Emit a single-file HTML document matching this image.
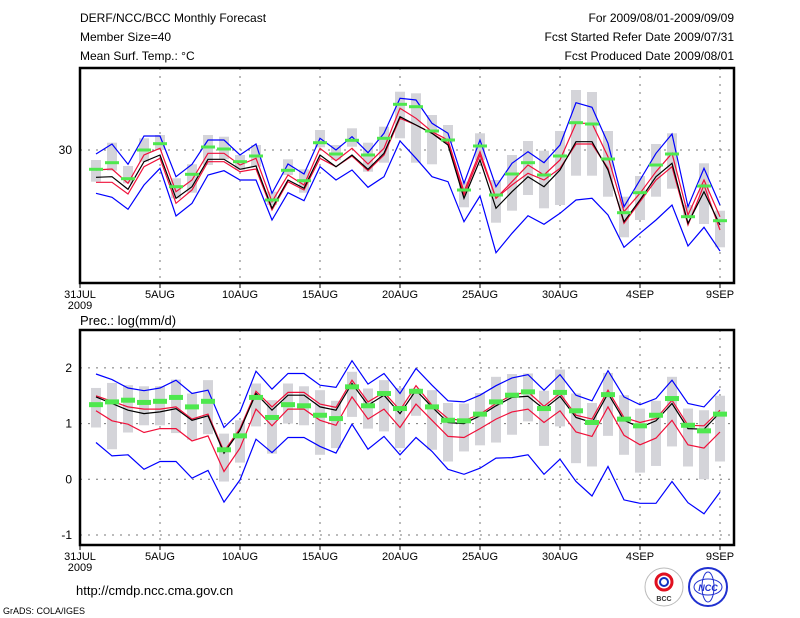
<!DOCTYPE html>
<html><head><meta charset="utf-8"><style>
html,body{margin:0;padding:0;background:#fff;}
svg{display:block;font-family:"Liberation Sans",sans-serif;}
</style></head><body>
<svg id="c" width="800" height="618" viewBox="0 0 800 618">
<g font-size="12" fill="#000">
<text x="80" y="22">DERF/NCC/BCC Monthly Forecast</text>
<text x="80" y="41">Member Size=40</text>
<text x="80" y="60">Mean Surf. Temp.: °C</text>
<text x="734" y="22" text-anchor="end">For 2009/08/01-2009/09/09</text>
<text x="734" y="41" text-anchor="end">Fcst Started Refer Date 2009/07/31</text>
<text x="734" y="60" text-anchor="end">Fcst Produced Date 2009/08/01</text>
<text x="80" y="325" font-size="13">Prec.: log(mm/d)</text>
<text x="76" y="595" font-size="13">http://cmdp.ncc.cma.gov.cn</text>
<text x="3" y="614" font-size="9">GrADS: COLA/IGES</text>
</g>
<g>
<circle cx="664" cy="587" r="19" fill="#fff" stroke="#bbb"/>
<circle cx="664" cy="582" r="8" fill="none" stroke="#e01020" stroke-width="3"/>
<circle cx="664" cy="582" r="4" fill="none" stroke="#1030c0" stroke-width="2"/>
<text x="664" y="601" text-anchor="middle" font-size="7" font-weight="bold" fill="#333">BCC</text>
</g>
<g>
<circle cx="708" cy="587" r="19" fill="#fff" stroke="#2030d0" stroke-width="2"/>
<ellipse cx="708" cy="587" rx="14" ry="8" fill="none" stroke="#2030d0"/>
<ellipse cx="708" cy="587" rx="6" ry="15" fill="none" stroke="#2030d0"/>
<text x="708" y="591" text-anchor="middle" font-size="9" font-style="italic" font-weight="bold" fill="#2030d0">NCC</text>
</g>
<g id="top"></g>
<g id="bot"></g>
</svg>
<script>
const dayLabels=["31JUL","5AUG","10AUG","15AUG","20AUG","25AUG","30AUG","4SEP","9SEP"];
const tBlack=[27.27,27.33,26.07,28.83,29.5,25.17,26.33,29.07,29.07,28.07,28.4,24.17,27,26.17,29.5,28.33,29.5,28.07,29.67,33.33,32.5,31.67,30.5,25.17,29,24.17,25.83,27.33,26.33,28,30.83,30.83,28,22.83,25,27.33,28.67,22.67,25.83,22.5];
const tRedHi=[28,28.1,26.67,29.5,30.17,25.83,27,29.67,29.67,28.5,29.17,24.83,27.5,26.5,30.17,28.93,30.17,28.6,30.17,34.17,33.17,31.83,31,25.83,29.83,25.17,26.83,28.5,27.5,29,32.67,32.67,29.33,23.83,25.67,27.83,29.67,23.5,27,23.33];
const tRedLo=[26.77,26.77,25.6,28.33,29.17,24.67,26,28.83,28.83,27.83,28.1,24,26.83,26,29.17,28.33,29.4,27.93,29.5,33.17,32.5,31.67,30.67,25.5,29.5,25.17,26.5,27.67,27,28.17,30.6,30.6,28.17,22.67,24.83,27,28.33,22.5,26.5,22];
const tBlueHi=[29.6,30.6,28.57,31.4,31.4,27.33,28.57,31,31,29.5,30.6,25.67,28.6,27.6,31.17,30,31.33,29.73,31.67,35.17,35,32.67,31.67,26.67,31,26.33,28.67,29.83,28.73,30.5,34.73,34.27,30.67,24.33,27,29.67,31.6,24.33,28.17,24.5];
const tBlueLo=[25.67,25.27,24.07,26.5,28.17,23.4,24.67,27.5,27.93,27,27,23,25.73,24.93,28.33,27,28,26.27,27.33,30.9,29.17,27.33,26.83,22.83,25.4,19.73,21.67,23.43,22.57,23.67,25,25.17,23.5,20.27,21.67,23,24.5,20.4,22.27,19.9];
const tGreen=[28.07,28.73,27.13,30,30.63,26.33,27.57,30.3,30.1,28.83,29.4,25,27.97,26.93,30.73,29.6,30.97,29.5,31.17,34.57,34.33,31.9,31,26,30.4,25.5,27.6,28.73,27.5,29.4,32.73,32.6,29.1,23.73,25.73,28.5,29.6,23.33,26.4,22.93];
const tBoxHi=[29,30.73,28.4,31.17,31.5,27.17,28.57,31.5,31.33,29.5,30.5,25.83,29.07,28.07,32,30.5,32.17,30.73,32.33,35.83,35.67,33.5,32.5,26.83,31.67,27,29.5,30.9,29.93,31.9,36,35.8,31.9,25.33,27.4,30.6,31.67,24.5,28.67,23.93];
const tBoxLo=[26.83,27.93,26.67,28.83,30,25.17,25.73,28.5,29.07,28,28.33,24.5,27.5,25.73,30.27,29,30.33,27.83,28.73,31.17,28.73,28.57,30.73,24.27,29,22.73,23.93,25.5,24.17,24.5,27.43,27.43,25.33,21.27,23,25.33,26.13,23.33,22.6,20.27];
const tTicks=[30];
const pBlack=[1.48,1.36,1.24,1.18,1.21,1.27,1.06,1.14,0.47,0.88,1.54,1.24,1.51,1.51,1.30,1.24,1.72,1.33,1.51,1.18,1.60,1.30,1.02,1.00,1.14,1.32,1.47,1.49,1.26,1.49,1.11,1.02,1.54,1.06,0.93,1.05,1.36,0.91,0.90,1.20];
const pRedHi=[1.50,1.40,1.30,1.26,1.26,1.30,1.08,1.17,0.50,0.91,1.58,1.30,1.56,1.56,1.35,1.29,1.78,1.39,1.56,1.24,1.68,1.33,1.09,1.05,1.17,1.36,1.51,1.57,1.31,1.54,1.15,1.08,1.60,1.11,1.02,1.09,1.42,0.97,0.96,1.24];
const pRedLo=[1.23,1.05,0.99,0.84,0.91,0.91,0.69,0.78,0.14,0.56,1.26,0.96,1.26,1.26,1.06,0.97,1.48,1.08,1.26,0.93,1.35,1.06,0.77,0.75,0.91,1.08,1.21,1.26,1.02,1.23,0.85,0.77,1.30,0.79,0.62,0.74,1.06,0.62,0.56,0.85];
const pBlueHi=[1.89,1.79,1.64,1.59,1.64,1.78,1.54,1.60,0.93,1.21,1.94,1.62,1.90,1.90,1.69,1.65,2.13,1.71,1.90,1.54,1.99,1.69,1.41,1.39,1.51,1.68,1.82,1.88,1.60,1.88,1.51,1.41,1.95,1.48,1.34,1.45,1.78,1.36,1.30,1.61];
const pBlueLo=[0.66,0.42,0.44,0.18,0.32,0.32,0.02,0.16,-0.41,-0.01,0.72,0.48,0.75,0.75,0.59,0.47,0.99,0.54,0.77,0.44,0.75,0.50,0.18,0.09,0.20,0.38,0.39,0.44,0.09,0.36,-0.04,-0.30,0.23,-0.37,-0.43,-0.43,-0.04,-0.42,-0.62,-0.23];
const pGreen=[1.34,1.39,1.42,1.38,1.40,1.47,1.30,1.40,0.53,0.78,1.47,1.11,1.34,1.32,1.15,1.09,1.66,1.32,1.54,1.27,1.58,1.30,1.06,1.05,1.17,1.39,1.51,1.57,1.27,1.56,1.23,1.02,1.52,1.08,0.96,1.15,1.45,0.97,0.87,1.17];
const pBoxHi=[1.64,1.73,1.69,1.67,1.67,1.79,1.54,1.78,0.82,1.06,1.72,1.42,1.72,1.67,1.60,1.41,1.93,1.63,1.78,1.64,1.63,1.60,1.37,1.36,1.55,1.84,1.89,1.90,1.59,1.97,1.54,1.37,1.91,1.51,1.27,1.41,1.84,1.27,1.24,1.50];
const pBoxLo=[0.93,0.54,0.84,0.97,0.97,0.83,0.71,0.81,-0.04,0.30,0.95,0.46,1.00,0.97,0.44,0.56,1.12,0.91,0.86,0.56,1.14,0.53,0.32,0.50,0.61,0.66,0.80,1.04,0.60,0.95,0.29,0.23,0.78,0.44,0.12,0.24,0.59,0.23,0.00,0.32];
const pTicks=[2,1,0,-1];

const NS="http://www.w3.org/2000/svg";
function mk(parent,tag,attrs){const e=document.createElementNS(NS,tag);for(const k in attrs)e.setAttribute(k,attrs[k]);parent.appendChild(e);return e;}
const xDay=d=>80+16*d;
function panel(g,top,bottom,yScale,ticks,box,blueHi,blueLo,redHi,redLo,black,green,gh){
  // grid
  for(let i=0;i<dayLabels.length;i++){
    const x=xDay(i*5);
    if(i>0&&i<dayLabels.length){const l=mk(g,'line',{x1:x,x2:x,y1:top,y2:bottom,stroke:'#777','stroke-dasharray':'2,6'});
    
    }
  }
  ticks.forEach(t=>{
    const y=yScale(t);
    const l=mk(g,'line',{x1:80,x2:734,y1:y,y2:y,stroke:'#777','stroke-dasharray':'2,6'});
    
    
    const tx=mk(g,'text',{x:72,y:y+4,'text-anchor':'end','font-size':'12'});
    tx.textContent=String(t);
    
    
  });
  // boxes
  box[0].forEach((hi,i)=>{
    const lo=box[1][i];const y1=yScale(hi),y2=yScale(lo);
    const r=mk(g,'rect',{x:xDay(i+1)-5,y:y1,width:10,height:Math.max(1,y2-y1),fill:'#d4d4d9'});
    
    
  });
  function line(arr,color,name){
    const pts=arr.map((v,i)=>xDay(i+1)+','+yScale(v).toFixed(1)).join(' ');
    const p=mk(g,'polyline',{points:pts,fill:'none',stroke:color,'stroke-width':'1.2'});
    
    
  }
  line(blueHi,'#0000ff','max-line');
  line(blueLo,'#0000ff','min-line');
  line(redHi,'#f0103a','upper-red-line');
  line(redLo,'#f0103a','lower-red-line');
  line(black,'#000','ensemble-mean-line');
  green.forEach((v,i)=>{
    const r=mk(g,'rect',{x:xDay(i+1)-7,y:yScale(v)-gh/2,width:14,height:gh,fill:'#4ee84e'});
    
    
  });
  // frame
  const f=mk(g,'rect',{x:80,y:top,width:654,height:bottom-top,fill:'none',stroke:'#000','stroke-width':'2.5'});
  
  
  dayLabels.forEach((lab,i)=>{
    const x=xDay(i*5);
    const tk=mk(g,'line',{x1:x,x2:x,y1:bottom,y2:bottom+5,stroke:'#000'});
    
    
    const t=mk(g,'text',{x:x,y:bottom+15,'text-anchor':'middle','font-size':'11'});
    t.textContent=lab;
    
    
  });
  const yr=mk(g,'text',{x:80,y:bottom+26,'text-anchor':'middle','font-size':'11'});
  yr.textContent='2009';
  
  
}
const topScale=t=>150-(t-30)*10;
const botScale=v=>479.3-v*55.7;
panel(document.getElementById('top'),68,283,topScale,tTicks,[tBoxHi,tBoxLo],tBlueHi,tBlueLo,tRedHi,tRedLo,tBlack,tGreen,3);
panel(document.getElementById('bot'),330,545,botScale,pTicks,[pBoxHi,pBoxLo],pBlueHi,pBlueLo,pRedHi,pRedLo,pBlack,pGreen,5);
</script>
</body></html>
